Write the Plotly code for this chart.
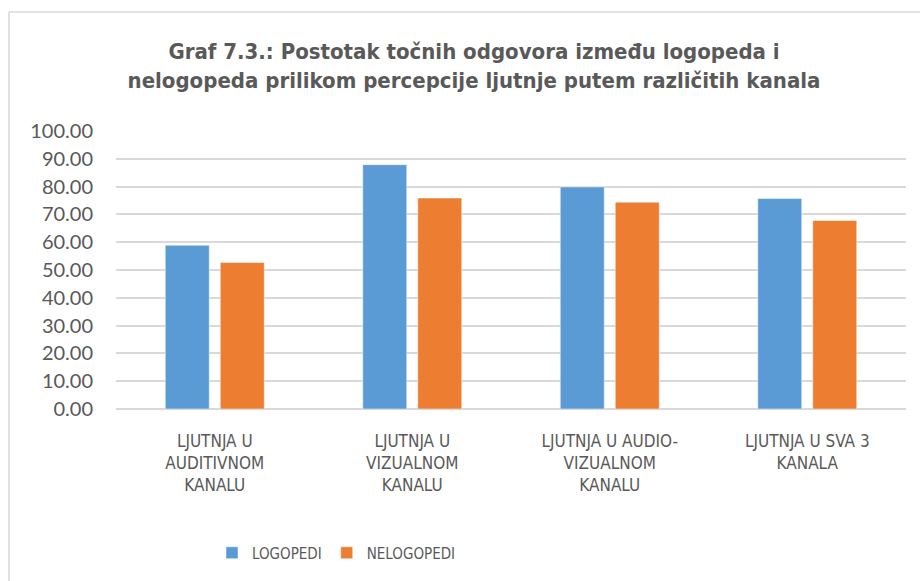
import plotly.graph_objects as go

categories = ["LJUTNJA U<br>AUDITIVNOM<br>KANALU", "LJUTNJA U<br>VIZUALNOM<br>KANALU",
              "LJUTNJA U AUDIO-<br>VIZUALNOM<br>KANALU", "LJUTNJA U SVA 3<br>KANALA"]
logopedi = [58.9, 87.9, 79.9, 75.7]
nelogopedi = [52.7, 75.9, 74.4, 67.8]
y_ticks = [0, 10, 20, 30, 40, 50, 60, 70, 80, 90, 100]
y_tick_labels = [f"{v:.2f}" for v in y_ticks]

TXT = "#595959"
GRID = "#d9d9d9"
FONT = "Liberation Sans Narrow, DejaVu Sans Condensed, Lato, sans-serif"

fig = go.Figure()
fig.add_trace(go.Bar(name="LOGOPEDI", x=categories, y=logopedi,
                     marker=dict(color="#5b9bd5", line=dict(color="#ffffff", width=0.5))))
fig.add_trace(go.Bar(name="NELOGOPEDI", x=categories, y=nelogopedi,
                     marker=dict(color="#ed7d31", line=dict(color="#ffffff", width=0.5))))

L, R, T, B = 116, 14, 131, 172
W, H = 920, 581
pw, ph = W - L - R, H - T - B
bx = (9 - L) / pw
by = (H - B - 12) / ph

fig.update_layout(
    width=W, height=H,
    margin=dict(l=L, r=R, t=T, b=B, autoexpand=False),
    paper_bgcolor="white", plot_bgcolor="white",
    barmode="group", bargap=0.443, bargroupgap=0.2,
    title=dict(text="<b>Graf 7.3.: Postotak točnih odgovora između logopeda i<br>nelogopeda prilikom percepcije ljutnje putem različitih kanala</b>",
               x=474 / W, xanchor="center", y=1 - 59 / H, yanchor="middle",
               font=dict(family=FONT, size=22, color=TXT)),
    font=dict(family=FONT, color=TXT),
    showlegend=True,
    legend=dict(orientation="h", x=(212 - L) / pw, xanchor="left", y=-(553 - (H - B)) / ph, yanchor="middle",
                font=dict(size=15, color=TXT), itemwidth=30, traceorder="normal"),
    xaxis=dict(showgrid=False, showline=False, ticks="", ticklabelstandoff=20,
               tickfont=dict(size=17, color=TXT)),
    yaxis=dict(range=[0, 100], tickvals=y_ticks, ticktext=y_tick_labels,
               showgrid=True, gridcolor=GRID, gridwidth=1.5,
               zeroline=True, zerolinecolor=GRID, zerolinewidth=1.5,
               showline=False, ticks="", ticklabelstandoff=22,
               tickfont=dict(size=20, color=TXT, family="Lato, sans-serif")),
    shapes=[
        dict(type="line", xref="paper", yref="paper", x0=bx, x1=bx, y0=by, y1=-1,
             line=dict(color=GRID, width=1.5)),
        dict(type="line", xref="paper", yref="paper", x0=bx, x1=1.5, y0=by, y1=by,
             line=dict(color=GRID, width=1.5)),
    ],
)

fig.write_html("out.html", config={"displayModeBar": False},
               post_script="document.body.style.margin='0';document.body.style.overflow='hidden';")
